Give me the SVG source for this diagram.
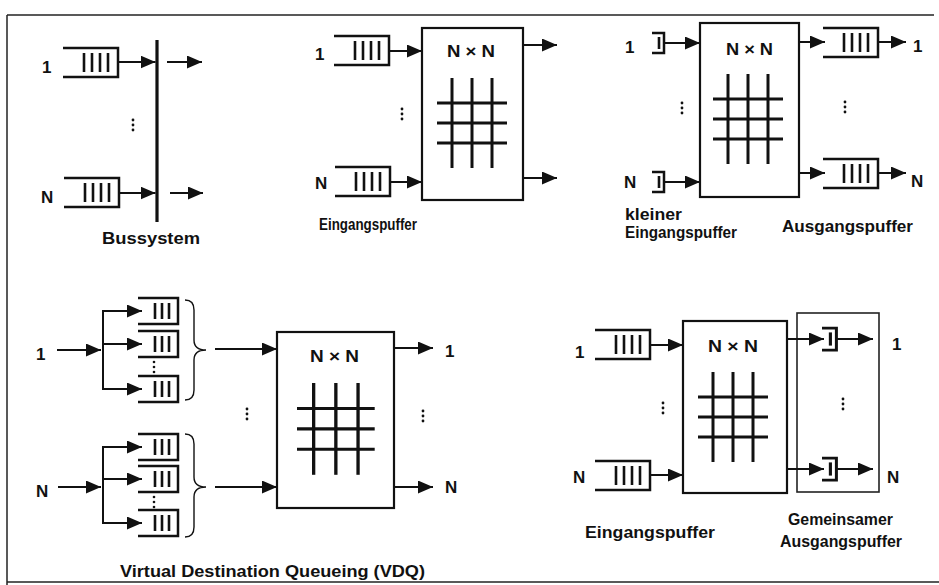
<svg xmlns="http://www.w3.org/2000/svg" xmlns:xlink="http://www.w3.org/1999/xlink" width="939" height="585" viewBox="0 0 939 585">
  <style>
    .frame { stroke: #222; stroke-width: 1.5; fill: none; }
    .q { fill: none; stroke: #111; stroke-width: 2.5; }
    .bar { stroke: #111; stroke-width: 2.6; }
    .box { fill: #fff; stroke: #111; stroke-width: 2.2; }
    .box2 { fill: none; stroke: #222; stroke-width: 1.6; }
    .grid line { stroke: #111; stroke-width: 3; }
    .ar { stroke: #111; stroke-width: 2; fill: none; marker-end: url(#head); }
    .ln { stroke: #111; stroke-width: 2; fill: none; }
    .brace { stroke: #111; stroke-width: 1.4; fill: none; }
    .dot { fill: #111; }
    text { font-family: "Liberation Sans", Arial, Helvetica, sans-serif; font-weight: bold; fill: #111; }
    .lbl { font-size: 17px; }
    .cap { font-size: 16px; }
    .nn { font-size: 16px; }
  </style>
  <defs>
    <marker id="head" markerUnits="userSpaceOnUse" markerWidth="15" markerHeight="13" refX="15" refY="6.5" orient="auto">
      <path d="M0,0 L15,6.5 L0,13 z" fill="#111"/>
    </marker>
    <!-- queue with four packets, open on the left -->
    <g id="q4">
      <path class="q" d="M0,0 H55 V29 H0"/>
      <line class="bar" x1="21" y1="5" x2="21" y2="24"/>
      <line class="bar" x1="29" y1="5" x2="29" y2="24"/>
      <line class="bar" x1="37" y1="5" x2="37" y2="24"/>
      <line class="bar" x1="45" y1="5" x2="45" y2="24"/>
    </g>
    <!-- virtual output queue with three packets -->
    <g id="q3">
      <path class="q" d="M0,0 H40 V26 H0"/>
      <line class="bar" x1="17" y1="5" x2="17" y2="21"/>
      <line class="bar" x1="24" y1="5" x2="24" y2="21"/>
      <line class="bar" x1="31" y1="5" x2="31" y2="21"/>
    </g>
    <!-- small one-packet buffer -->
    <g id="q1">
      <path class="q" d="M0,0 H12 V20 H0"/>
      <line class="bar" x1="7" y1="4" x2="7" y2="16"/>
    </g>
    <g id="dots">
      <circle class="dot" cx="0" cy="0" r="1.4"/>
      <circle class="dot" cx="0" cy="5" r="1.4"/>
      <circle class="dot" cx="0" cy="10" r="1.4"/>
    </g>
    <!-- crossbar symbol: 3 vertical and 3 horizontal bars -->
    <g id="xbar" class="grid">
      <line x1="15" y1="0" x2="15" y2="90"/>
      <line x1="35" y1="0" x2="35" y2="90"/>
      <line x1="55" y1="0" x2="55" y2="90"/>
      <line x1="0" y1="25" x2="70" y2="25"/>
      <line x1="0" y1="45" x2="70" y2="45"/>
      <line x1="0" y1="65" x2="70" y2="65"/>
    </g>
  </defs>

  <!-- page frame -->
  <g id="frame">
    <line class="frame" x1="7" y1="15" x2="934" y2="15"/>
    <line class="frame" x1="7" y1="15" x2="7" y2="585"/>
    <line class="frame" x1="7" y1="582" x2="939" y2="582"/>
  </g>

  <!-- ===== Bus system ===== -->
  <g id="bus-q1"><use xlink:href="#q4" x="63" y="48"/></g>
  <g id="bus-qN"><use xlink:href="#q4" x="64" y="178"/></g>
  <g id="bus"><line x1="157" y1="40" x2="157" y2="222" stroke="#111" stroke-width="3.2"/></g>
  <text class="lbl" x="42" y="73">1</text>
  <text class="lbl" x="41" y="203">N</text>
  <use xlink:href="#dots" x="133" y="120"/>
  <text class="cap" x="102" y="244" textLength="98" lengthAdjust="spacingAndGlyphs">Bussystem</text>

  <!-- ===== Input buffering ===== -->
  <g id="ib-q1"><use xlink:href="#q4" x="334" y="36"/></g>
  <g id="ib-qN"><use xlink:href="#q4" x="335" y="167"/></g>
  <g id="ib-switch">
    <rect class="box" x="422" y="28" width="101" height="172"/>
    <text class="nn" x="447" y="57" textLength="48" lengthAdjust="spacingAndGlyphs">N × N</text>
    <use xlink:href="#xbar" x="437" y="78"/>
  </g>
  <text class="lbl" x="315" y="60">1</text>
  <text class="lbl" x="315" y="189">N</text>
  <use xlink:href="#dots" x="402" y="109"/>
  <text class="cap" x="319" y="230" textLength="98" lengthAdjust="spacingAndGlyphs">Eingangspuffer</text>

  <!-- ===== Output buffering ===== -->
  <g id="ob-in1"><use xlink:href="#q1" x="652" y="33"/></g>
  <g id="ob-inN"><use xlink:href="#q1" x="652" y="172"/></g>
  <g id="ob-switch">
    <rect class="box" x="700" y="23" width="99" height="174"/>
    <text class="nn" x="726" y="55" textLength="47" lengthAdjust="spacingAndGlyphs">N × N</text>
    <use xlink:href="#xbar" x="713" y="74"/>
  </g>
  <g id="ob-q1"><use xlink:href="#q4" x="823" y="28"/></g>
  <g id="ob-qN"><use xlink:href="#q4" x="823" y="159"/></g>
  <text class="lbl" x="625" y="53">1</text>
  <text class="lbl" x="624" y="188">N</text>
  <text class="lbl" x="913" y="52">1</text>
  <text class="lbl" x="911" y="187">N</text>
  <use xlink:href="#dots" x="682" y="103"/>
  <use xlink:href="#dots" x="845" y="102"/>
  <text class="cap" x="625" y="220" textLength="57" lengthAdjust="spacingAndGlyphs">kleiner</text>
  <text class="cap" x="625" y="238" textLength="112" lengthAdjust="spacingAndGlyphs">Eingangspuffer</text>
  <text class="cap" x="782" y="232" textLength="131" lengthAdjust="spacingAndGlyphs">Ausgangspuffer</text>

  <!-- ===== Virtual Destination Queueing ===== -->
  <g id="vdq-1">
    <use xlink:href="#q3" x="138" y="298"/>
    <use xlink:href="#q3" x="138" y="331"/>
    <use xlink:href="#q3" x="138" y="376"/>
    <circle class="dot" cx="154" cy="362" r="1.3"/>
    <circle class="dot" cx="154" cy="367" r="1.3"/>
    <circle class="dot" cx="154" cy="372" r="1.3"/>
    <path class="brace" d="M185,300 Q194,300 194,310 L194,340 Q194,350 206,350 Q194,350 194,360 L194,390 Q194,400 185,400"/>
  </g>
  <g id="vdq-N">
    <use xlink:href="#q3" x="138" y="434"/>
    <use xlink:href="#q3" x="138" y="466"/>
    <use xlink:href="#q3" x="138" y="510"/>
    <circle class="dot" cx="154" cy="497" r="1.3"/>
    <circle class="dot" cx="154" cy="502" r="1.3"/>
    <circle class="dot" cx="154" cy="507" r="1.3"/>
    <path class="brace" d="M185,434 Q194,434 194,444 L194,477 Q194,487 206,487 Q194,487 194,497 L194,527 Q194,537 185,537"/>
  </g>
  <g id="vdq-switch">
    <rect class="box" x="277" y="332" width="117" height="176"/>
    <text class="nn" x="310" y="362" textLength="49" lengthAdjust="spacingAndGlyphs">N × N</text>
    <g transform="translate(297 383) scale(1.11 1.02)"><use xlink:href="#xbar"/></g>
  </g>
  <text class="lbl" x="36" y="360">1</text>
  <text class="lbl" x="36" y="497">N</text>
  <text class="lbl" x="445" y="357">1</text>
  <text class="lbl" x="445" y="493">N</text>
  <use xlink:href="#dots" x="247" y="409"/>
  <use xlink:href="#dots" x="423" y="411"/>
  <text class="cap" x="120" y="577" textLength="305" lengthAdjust="spacingAndGlyphs">Virtual Destination Queueing (VDQ)</text>

  <!-- ===== Input buffering with shared output buffer ===== -->
  <g id="sb-q1"><use xlink:href="#q4" x="595" y="330"/></g>
  <g id="sb-qN"><use xlink:href="#q4" x="595" y="461"/></g>
  <g id="sb-switch">
    <rect class="box" x="683" y="321" width="104" height="172"/>
    <text class="nn" x="708" y="352" textLength="50" lengthAdjust="spacingAndGlyphs">N × N</text>
    <use xlink:href="#xbar" x="698" y="372"/>
  </g>
  <g id="sb-shared">
    <rect class="box2" x="797" y="313" width="82" height="179"/>
    <g transform="translate(822 328) scale(1.2 1.1)"><use xlink:href="#q1"/></g>
    <g transform="translate(822 458) scale(1.2 1.1)"><use xlink:href="#q1"/></g>
  </g>
  <text class="lbl" x="575" y="358">1</text>
  <text class="lbl" x="573" y="483">N</text>
  <text class="lbl" x="892" y="350">1</text>
  <text class="lbl" x="887" y="483">N</text>
  <use xlink:href="#dots" x="663" y="403"/>
  <use xlink:href="#dots" x="843" y="399"/>
  <text class="cap" x="585" y="538" textLength="130" lengthAdjust="spacingAndGlyphs">Eingangspuffer</text>
  <text class="cap" x="788" y="525" textLength="105" lengthAdjust="spacingAndGlyphs">Gemeinsamer</text>
  <text class="cap" x="780" y="547" textLength="122" lengthAdjust="spacingAndGlyphs">Ausgangspuffer</text>

  <!-- ===== connectors ===== -->
  <g id="connectors">
    <!-- bus system -->
    <line class="ar" x1="118" y1="62" x2="155.5" y2="62"/>
    <line class="ar" x1="119" y1="193" x2="155.5" y2="193"/>
    <line class="ar" x1="167" y1="62" x2="202" y2="62"/>
    <line class="ar" x1="170" y1="193" x2="203" y2="193"/>
    <!-- input buffering -->
    <line class="ar" x1="389" y1="51" x2="422" y2="51"/>
    <line class="ar" x1="390" y1="182" x2="422" y2="182"/>
    <line class="ar" x1="523" y1="45" x2="557" y2="45"/>
    <line class="ar" x1="523" y1="178" x2="557" y2="178"/>
    <!-- output buffering -->
    <line class="ar" x1="664" y1="43" x2="700" y2="43"/>
    <line class="ar" x1="664" y1="182" x2="700" y2="182"/>
    <line class="ar" x1="799" y1="42" x2="825" y2="42"/>
    <line class="ar" x1="799" y1="173" x2="825" y2="173"/>
    <line class="ar" x1="878" y1="42" x2="906" y2="42"/>
    <line class="ar" x1="878" y1="173" x2="906" y2="173"/>
    <!-- VDQ fan-out, group 1 -->
    <line class="ar" x1="57" y1="350" x2="101" y2="350"/>
    <line class="ln" x1="103" y1="310" x2="103" y2="390"/>
    <line class="ar" x1="102" y1="311" x2="142" y2="311"/>
    <line class="ar" x1="103" y1="344" x2="142" y2="344"/>
    <line class="ar" x1="102" y1="389" x2="142" y2="389"/>
    <line class="ar" x1="215" y1="349" x2="277" y2="349"/>
    <!-- VDQ fan-out, group N -->
    <line class="ar" x1="58" y1="487" x2="101" y2="487"/>
    <line class="ln" x1="103" y1="446" x2="103" y2="524"/>
    <line class="ar" x1="102" y1="447" x2="142" y2="447"/>
    <line class="ar" x1="103" y1="479" x2="142" y2="479"/>
    <line class="ar" x1="102" y1="523" x2="142" y2="523"/>
    <line class="ar" x1="215" y1="487" x2="277" y2="487"/>
    <!-- VDQ outputs -->
    <line class="ar" x1="394" y1="348" x2="433" y2="348"/>
    <line class="ar" x1="394" y1="487" x2="433" y2="487"/>
    <!-- shared output buffer -->
    <line class="ar" x1="651" y1="345" x2="683" y2="345"/>
    <line class="ar" x1="651" y1="475" x2="683" y2="475"/>
    <line class="ar" x1="787" y1="339" x2="824" y2="339"/>
    <line class="ar" x1="787" y1="469" x2="824" y2="469"/>
    <line class="ar" x1="836" y1="339" x2="873" y2="339"/>
    <line class="ar" x1="836" y1="469" x2="873" y2="469"/>
  </g>
</svg>
